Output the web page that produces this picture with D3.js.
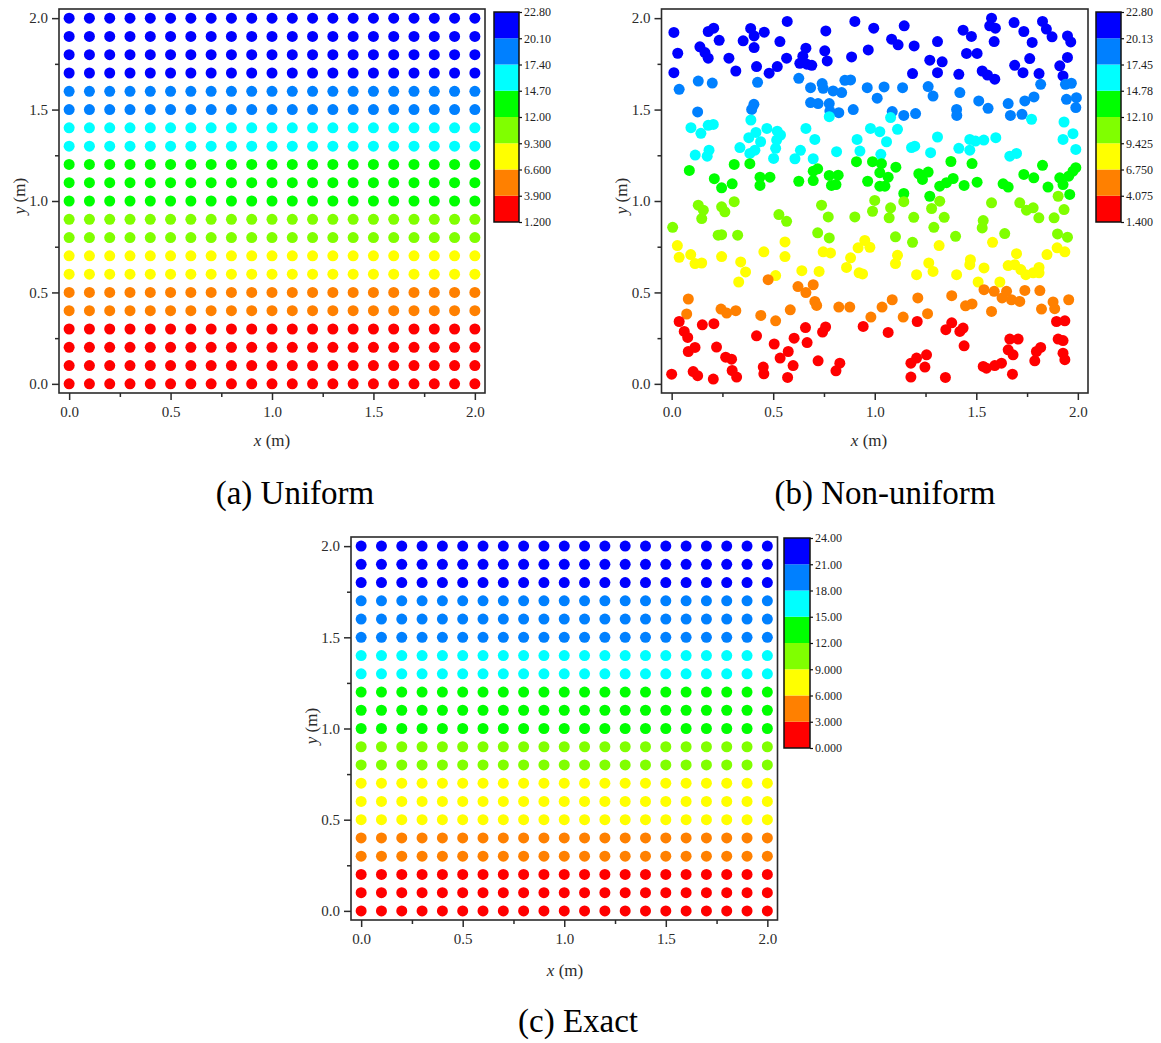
<!DOCTYPE html>
<html><head><meta charset="utf-8">
<script src="https://cdn.jsdelivr.net/npm/d3@7"></script>
<style>body{margin:0;background:#fff}svg{display:block}text{font-family:"Liberation Serif","Times New Roman",serif}</style>
</head><body>
<svg id="chart" width="1161" height="1043"></svg>
<script>
// ---------------- data ----------------
const gridX = [0,0.1,0.2,0.3,0.4,0.5,0.6,0.7,0.8,0.9,1.0,1.1,1.2,1.3,1.4,1.5,1.6,1.7,1.8,1.9,2.0];
const gridY = [0,0.1,0.2,0.3,0.4,0.5,0.6,0.7,0.8,0.9,1.0,1.1,1.2,1.3,1.4,1.5,1.6,1.7,1.8,1.9,2.0];
// value of each grid row (bottom to top)
const uniformRowValues = [1.2,2.4,3.0,3.8,5.0,6.2,7.4,8.6,9.8,11.0,12.2,13.4,14.6,15.8,17.0,18.2,19.4,20.6,21.4,22.2,22.8];
const exactRowValues = [0.0,1.2,2.4,3.6,4.8,6.0,7.2,8.4,9.6,10.8,12.0,13.2,14.4,15.6,16.8,18.0,19.2,20.4,21.6,22.8,24.0];

const levelsA = [1.2,3.9,6.6,9.3,12.0,14.7,17.4,20.1,22.8];
const levelLabelsA = ["1.200","3.900","6.600","9.300","12.00","14.70","17.40","20.10","22.80"];
const levelsB = [1.4,4.075,6.75,9.425,12.1,14.775,17.45,20.125,22.8];
const levelLabelsB = ["1.400","4.075","6.750","9.425","12.10","14.78","17.45","20.13","22.80"];
const levelsC = [0,3,6,9,12,15,18,21,24];
const levelLabelsC = ["0.000","3.000","6.000","9.000","12.00","15.00","18.00","21.00","24.00"];
const bandColors = ["#FF0000","#FF8000","#FFFF00","#80FF00","#00FF00","#00FFFF","#0080FF","#0000FF"];

const axisTicks = [0,0.5,1,1.5,2];
const axisTickLabels = ["0.0","0.5","1.0","1.5","2.0"];
const minorTicks = [0.25,0.75,1.25,1.75];

const captions = ["(a) Uniform","(b) Non-uniform","(c) Exact"];

// non-uniform scattered points: [x, y, value]
const nonUniformPoints = [
// blue
[0.011,1.922,21.5],[0.180,1.927,21.5],[0.207,1.945,21.5],[0.234,1.879,21.5],[0.030,1.808,21.5],[0.139,1.843,21.5],[0.164,1.812,21.5],[0.180,1.781,21.5],[0.282,1.781,21.5],[0.316,1.711,21.5],
[0.011,1.702,21.5],[0.389,1.944,21.5],[0.406,1.903,21.5],[0.456,1.923,21.5],[0.352,1.876,21.5],[0.406,1.839,21.5],[0.569,1.982,21.5],[0.533,1.872,21.5],[0.418,1.735,21.5],[0.566,1.781,21.5],
[0.520,1.735,21.5],[0.480,1.699,21.5],[0.661,1.836,21.5],[0.646,1.792,21.5],[0.631,1.753,21.5],[0.666,1.748,21.5],[0.690,1.742,21.5],[0.902,1.982,21.5],[0.759,1.930,21.5],[0.995,1.945,21.5],
[1.145,1.958,21.5],[1.083,1.885,21.5],[1.115,1.854,21.5],[1.194,1.848,21.5],[1.309,1.872,21.5],[0.754,1.821,21.5],[0.766,1.766,21.5],[0.886,1.788,21.5],[0.968,1.826,21.5],[1.271,1.770,21.5],
[1.332,1.761,21.5],[1.309,1.702,21.5],[1.186,1.697,21.5],[1.575,2.000,21.5],[1.566,1.958,21.5],[1.594,1.945,21.5],[1.686,1.976,21.5],[1.435,1.934,21.5],[1.476,1.900,21.5],[1.588,1.872,21.5],
[1.734,1.927,21.5],[1.775,1.867,21.5],[1.826,1.982,21.5],[1.845,1.940,21.5],[1.873,1.898,21.5],[1.949,1.903,21.5],[1.965,1.870,21.5],[1.452,1.807,21.5],[1.504,1.807,21.5],[1.763,1.779,21.5],
[1.414,1.693,21.5],[1.529,1.711,21.5],[1.555,1.689,21.5],[1.591,1.666,21.5],[1.689,1.742,21.5],[1.730,1.702,21.5],[1.809,1.697,21.5],[1.911,1.739,21.5],[1.927,1.684,21.5],[1.949,1.785,21.5],
// light blue
[0.037,1.611,18.8],[0.131,1.656,18.8],[0.200,1.645,18.8],[0.423,1.649,18.8],[0.626,1.671,18.8],[0.128,1.487,18.8],[0.405,1.529,18.8],[0.394,1.501,18.8],[0.684,1.620,18.8],[0.741,1.642,18.8],
[0.746,1.616,18.8],[0.795,1.602,18.8],[0.837,1.593,18.8],[0.853,1.660,18.8],[0.881,1.662,18.8],[0.963,1.620,18.8],[1.046,1.624,18.8],[1.012,1.562,18.8],[1.137,1.620,18.8],[1.263,1.626,18.8],
[1.287,1.574,18.8],[0.684,1.538,18.8],[0.721,1.533,18.8],[0.776,1.533,18.8],[0.779,1.492,18.8],[0.823,1.483,18.8],[0.894,1.500,18.8],[1.086,1.489,18.8],[1.143,1.468,18.8],[1.201,1.478,18.8],
[1.419,1.593,18.8],[1.403,1.501,18.8],[1.404,1.468,18.8],[1.512,1.547,18.8],[1.558,1.507,18.8],[1.657,1.533,18.8],[1.668,1.468,18.8],[1.725,1.474,18.8],[1.739,1.547,18.8],[1.784,1.569,18.8],
[1.817,1.638,18.8],[1.939,1.638,18.8],[1.968,1.644,18.8],[1.944,1.556,18.8],[1.993,1.565,18.8],[1.990,1.511,18.8],
// cyan
[0.095,1.401,16.1],[0.144,1.370,16.1],[0.180,1.414,16.1],[0.205,1.419,16.1],[0.390,1.443,16.1],[0.116,1.251,16.1],[0.175,1.245,16.1],[0.184,1.278,16.1],[0.336,1.292,16.1],[0.380,1.346,16.1],
[0.415,1.375,16.1],[0.438,1.324,16.1],[0.410,1.278,16.1],[0.385,1.260,16.1],[0.469,1.397,16.1],[0.520,1.382,16.1],[0.536,1.361,16.1],[0.517,1.333,16.1],[0.512,1.288,16.1],[0.502,1.233,16.1],
[0.607,1.231,16.1],[0.634,1.277,16.1],[0.661,1.397,16.1],[0.776,1.461,16.1],[1.078,1.456,16.1],[0.705,1.337,16.1],[0.979,1.397,16.1],[1.025,1.379,16.1],[1.112,1.392,16.1],[0.913,1.337,16.1],
[1.058,1.324,16.1],[0.927,1.273,16.1],[0.812,1.270,16.1],[1.030,1.255,16.1],[0.697,1.231,16.1],[1.181,1.292,16.1],[1.197,1.300,16.1],[1.309,1.350,16.1],[1.275,1.264,16.1],[1.772,1.447,16.1],
[1.932,1.432,16.1],[1.468,1.337,16.1],[1.496,1.328,16.1],[1.537,1.333,16.1],[1.596,1.346,16.1],[1.414,1.288,16.1],[1.468,1.278,16.1],[1.665,1.245,16.1],[1.698,1.260,16.1],[1.976,1.368,16.1],
[1.927,1.337,16.1],[1.990,1.282,16.1],
// green
[0.087,1.167,13.4],[0.308,1.200,13.4],[0.385,1.204,13.4],[0.210,1.122,13.4],[0.246,1.072,13.4],[0.298,1.094,13.4],[0.435,1.130,13.4],[0.435,1.085,13.4],[0.484,1.130,13.4],[0.626,1.108,13.4],
[0.910,1.215,13.4],[0.989,1.215,13.4],[1.033,1.204,13.4],[1.025,1.155,13.4],[1.066,1.130,13.4],[1.025,1.081,13.4],[1.050,1.081,13.4],[1.104,1.185,13.4],[0.719,1.176,13.4],[0.697,1.163,13.4],
[0.697,1.112,13.4],[0.776,1.140,13.4],[0.820,1.141,13.4],[0.787,1.085,13.4],[0.809,1.090,13.4],[0.965,1.108,13.4],[1.143,1.041,13.4],[1.217,1.149,13.4],[1.263,1.158,13.4],[1.235,1.118,13.4],
[1.271,1.026,13.4],[1.320,1.081,13.4],[1.353,1.100,13.4],[1.375,1.216,13.4],[1.479,1.205,13.4],[1.386,1.123,13.4],[1.440,1.085,13.4],[1.504,1.103,13.4],[1.632,1.094,13.4],[1.657,1.076,13.4],
[1.734,1.145,13.4],[1.783,1.127,13.4],[1.826,1.195,13.4],[1.853,1.076,13.4],[1.911,1.127,13.4],[1.927,1.090,13.4],[1.955,1.136,13.4],[1.976,1.163,13.4],[1.990,1.182,13.4],[1.960,1.036,13.4],
// chartreuse
[0.131,0.977,10.8],[0.156,0.950,10.8],[0.148,0.904,10.8],[0.246,0.968,10.8],[0.262,0.941,10.8],[0.308,0.996,10.8],[0.005,0.856,10.8],[0.229,0.813,10.8],[0.246,0.816,10.8],[0.325,0.813,10.8],
[0.528,0.926,10.8],[0.566,0.889,10.8],[0.738,0.977,10.8],[0.771,0.913,10.8],[1.000,1.003,10.8],[0.989,0.944,10.8],[1.078,0.963,10.8],[1.071,0.908,10.8],[0.902,0.913,10.8],[1.192,0.911,10.8],
[1.143,0.996,10.8],[1.280,0.959,10.8],[1.320,0.999,10.8],[1.342,0.911,10.8],[1.291,0.856,10.8],[0.719,0.826,10.8],[0.776,0.798,10.8],[1.102,0.804,10.8],[1.186,0.774,10.8],[1.575,0.990,10.8],
[1.714,0.990,10.8],[1.747,0.950,10.8],[1.780,0.963,10.8],[1.808,0.908,10.8],[1.534,0.893,10.8],[1.529,0.853,10.8],[1.640,0.822,10.8],[1.398,0.807,10.8],[1.903,1.026,10.8],[1.932,0.953,10.8],
[1.883,0.908,10.8],[1.900,0.820,10.8],[1.949,0.802,10.8],
// yellow
[0.028,0.756,8.1],[0.037,0.692,8.1],[0.094,0.707,8.1],[0.115,0.658,8.1],[0.148,0.661,8.1],[0.246,0.696,8.1],[0.340,0.667,8.1],[0.364,0.612,8.1],[0.330,0.557,8.1],[0.454,0.722,8.1],
[0.558,0.776,8.1],[0.558,0.696,8.1],[0.512,0.592,8.1],[0.641,0.619,8.1],[0.746,0.722,8.1],[0.782,0.716,8.1],[0.726,0.615,8.1],[0.881,0.689,8.1],[0.861,0.637,8.1],[0.918,0.744,8.1],
[0.951,0.784,8.1],[0.976,0.747,8.1],[0.923,0.607,8.1],[0.940,0.601,8.1],[1.112,0.703,8.1],[1.102,0.658,8.1],[1.206,0.597,8.1],[1.317,0.756,8.1],[1.266,0.661,8.1],[1.287,0.615,8.1],
[1.580,0.774,8.1],[1.471,0.679,8.1],[1.468,0.652,8.1],[1.538,0.634,8.1],[1.403,0.597,8.1],[1.509,0.557,8.1],[1.616,0.557,8.1],[1.698,0.712,8.1],[1.657,0.647,8.1],[1.689,0.652,8.1],
[1.719,0.625,8.1],[1.744,0.597,8.1],[1.780,0.607,8.1],[1.809,0.637,8.1],[1.809,0.607,8.1],[1.848,0.707,8.1],[1.898,0.744,8.1],[1.936,0.722,8.1],
// orange
[0.475,0.570,5.4],[0.622,0.532,5.4],[0.661,0.499,5.4],[0.082,0.464,5.4],[0.074,0.382,5.4],[0.243,0.409,5.4],[0.271,0.387,5.4],[0.316,0.400,5.4],[0.439,0.374,5.4],[0.512,0.345,5.4],
[0.584,0.405,5.4],[0.697,0.542,5.4],[0.705,0.451,5.4],[0.714,0.429,5.4],[0.823,0.420,5.4],[0.877,0.420,5.4],[0.981,0.365,5.4],[1.036,0.420,5.4],[1.086,0.460,5.4],[1.140,0.365,5.4],
[1.212,0.470,5.4],[1.260,0.384,5.4],[1.379,0.482,5.4],[1.447,0.427,5.4],[1.479,0.437,5.4],[1.538,0.515,5.4],[1.588,0.506,5.4],[1.627,0.470,5.4],[1.649,0.506,5.4],[1.673,0.460,5.4],
[1.714,0.451,5.4],[1.739,0.511,5.4],[1.575,0.396,5.4],[1.813,0.510,5.4],[1.821,0.409,5.4],[1.878,0.448,5.4],[1.886,0.411,5.4],[1.955,0.460,5.4],
// red
[0.037,0.341,2.7],[0.062,0.287,2.7],[0.079,0.254,2.7],[0.151,0.323,2.7],[0.208,0.329,2.7],[0.082,0.177,2.7],[0.115,0.199,2.7],[0.221,0.201,2.7],[0.266,0.146,2.7],[0.295,0.135,2.7],
[0.298,0.073,2.7],[0.320,0.037,2.7],[0.000,0.053,2.7],[0.106,0.067,2.7],[0.128,0.045,2.7],[0.205,0.026,2.7],[0.418,0.263,2.7],[0.451,0.092,2.7],[0.454,0.055,2.7],[0.505,0.218,2.7],
[0.534,0.141,2.7],[0.574,0.177,2.7],[0.603,0.250,2.7],[0.598,0.100,2.7],[0.571,0.035,2.7],[0.659,0.308,2.7],[0.667,0.226,2.7],[0.743,0.283,2.7],[0.758,0.311,2.7],[0.943,0.314,2.7],
[1.066,0.281,2.7],[1.209,0.341,2.7],[0.721,0.126,2.7],[0.809,0.071,2.7],[0.828,0.113,2.7],[1.178,0.113,2.7],[1.206,0.141,2.7],[1.255,0.159,2.7],[1.247,0.092,2.7],[1.178,0.037,2.7],
[1.348,0.035,2.7],[1.350,0.296,2.7],[1.379,0.334,2.7],[1.419,0.287,2.7],[1.435,0.305,2.7],[1.440,0.208,2.7],[1.665,0.245,2.7],[1.706,0.245,2.7],[1.657,0.186,2.7],[1.681,0.159,2.7],
[1.534,0.095,2.7],[1.550,0.086,2.7],[1.591,0.100,2.7],[1.624,0.113,2.7],[1.678,0.053,2.7],[1.788,0.126,2.7],[1.817,0.199,2.7],[1.796,0.177,2.7],[1.895,0.341,2.7],[1.936,0.345,2.7],
[1.903,0.245,2.7],[1.927,0.237,2.7],[1.927,0.168,2.7],[1.936,0.132,2.7]
];

// ---------------- drawing ----------------
const svg = d3.select("#chart");
const R = 5.5;
const axisColor = "#2b2b2b";
const SERIF = '"Liberation Serif","Times New Roman",serif';

function gridPoints(rowValues){
  const pts = [];
  gridY.forEach((y,i)=>gridX.forEach(x=>pts.push([x,y,rowValues[i]])));
  return pts;
}

function drawPanel(cfg){
  const g = svg.append("g");
  const x = d3.scaleLinear().domain([-0.05,2.05]).range(cfg.xr);
  const y = d3.scaleLinear().domain([-0.05,2.05]).range(cfg.yr);
  const color = d3.scaleThreshold().domain(cfg.levels.slice(1,-1)).range(bandColors);

  // points
  g.append("g").selectAll("circle").data(cfg.points).join("circle")
    .attr("cx",d=>x(d[0])).attr("cy",d=>y(d[1])).attr("r",R)
    .attr("fill",d=>color(d[2]));

  // axes
  const xa = g.append("g").attr("transform",`translate(0,${cfg.yr[0]})`)
    .call(d3.axisBottom(x).tickValues(axisTicks).tickFormat((d,i)=>axisTickLabels[i]).tickSize(7).tickPadding(6));
  const xm = g.append("g").attr("transform",`translate(0,${cfg.yr[0]})`)
    .call(d3.axisBottom(x).tickValues(minorTicks).tickFormat("").tickSize(4));
  const ya = g.append("g").attr("transform",`translate(${cfg.xr[0]},0)`)
    .call(d3.axisLeft(y).tickValues(axisTicks).tickFormat((d,i)=>axisTickLabels[i]).tickSize(7).tickPadding(4));
  const ym = g.append("g").attr("transform",`translate(${cfg.xr[0]},0)`)
    .call(d3.axisLeft(y).tickValues(minorTicks).tickFormat("").tickSize(4));
  [xa,xm,ya,ym].forEach(a=>{
    a.attr("font-family",SERIF);
    a.select(".domain").remove();
    a.selectAll("line").attr("stroke",axisColor).attr("stroke-width",1.5);
    a.selectAll("text").attr("fill",axisColor).style("font-size","15px").style("font-family",SERIF);
  });
  // frame
  g.append("rect").attr("x",cfg.xr[0]).attr("y",cfg.yr[1])
    .attr("width",cfg.xr[1]-cfg.xr[0]).attr("height",cfg.yr[0]-cfg.yr[1])
    .attr("fill","none").attr("stroke",axisColor).attr("stroke-width",1.6);

  // axis titles
  const xt = g.append("text").attr("x",cfg.xTitle[0]).attr("y",cfg.xTitle[1])
    .attr("text-anchor","middle").attr("fill",axisColor).style("font-size","17px");
  xt.append("tspan").attr("font-style","italic").text("x");
  xt.append("tspan").text(" (m)");
  const yt = g.append("text").attr("transform",`translate(${cfg.yTitle[0]},${cfg.yTitle[1]}) rotate(-90)`)
    .attr("text-anchor","middle").attr("fill",axisColor).style("font-size","17px");
  yt.append("tspan").attr("font-style","italic").text("y");
  yt.append("tspan").text(" (m)");

  // colorbar
  const cb = cfg.cb;
  const cy = d3.scaleLinear().domain([cfg.levels[0],cfg.levels[cfg.levels.length-1]]).range([cb.y1,cb.y0]);
  const bands = d3.range(cfg.levels.length-1);
  g.append("g").selectAll("rect").data(bands).join("rect")
    .attr("x",cb.x).attr("width",cb.w)
    .attr("y",i=>cy(cfg.levels[i+1])).attr("height",i=>cy(cfg.levels[i])-cy(cfg.levels[i+1]))
    .attr("fill",i=>bandColors[i]);
  g.append("rect").attr("x",cb.x).attr("y",cb.y0).attr("width",cb.w).attr("height",cb.y1-cb.y0)
    .attr("fill","none").attr("stroke","#111").attr("stroke-width",1.5);
  const ca = g.append("g").attr("transform",`translate(${cb.x+cb.w},0)`)
    .call(d3.axisRight(cy).tickValues(cfg.levels).tickFormat((d,i)=>cfg.labels[i]).tickSize(3).tickPadding(2));
  ca.attr("font-family",SERIF);
  ca.select(".domain").remove();
  ca.selectAll("line").attr("stroke","#111").attr("stroke-width",1.2);
  ca.selectAll("text").attr("fill","#222").style("font-size","12px").style("font-family",SERIF);

  // caption
  g.append("text").attr("x",cfg.caption[0]).attr("y",cfg.caption[1]).attr("text-anchor","middle")
    .attr("fill","#000").style("font-size","33px").text(cfg.captionText);
}

drawPanel({xr:[59,485], yr:[393,9], points:gridPoints(uniformRowValues), levels:levelsA, labels:levelLabelsA,
  cb:{x:494,w:25,y0:12,y1:222}, xTitle:[272,446], yTitle:[25,196], caption:[295,504], captionText:captions[0]});
drawPanel({xr:[661.5,1088], yr:[393,9], points:nonUniformPoints, levels:levelsB, labels:levelLabelsB,
  cb:{x:1096,w:25,y0:12,y1:222}, xTitle:[869,446], yTitle:[627,196], caption:[885,504], captionText:captions[1]});
drawPanel({xr:[351,777.5], yr:[920,537], points:gridPoints(exactRowValues), levels:levelsC, labels:levelLabelsC,
  cb:{x:784,w:26,y0:538,y1:748}, xTitle:[565,976], yTitle:[317,726], caption:[578,1032], captionText:captions[2]});
</script>
</body></html>
